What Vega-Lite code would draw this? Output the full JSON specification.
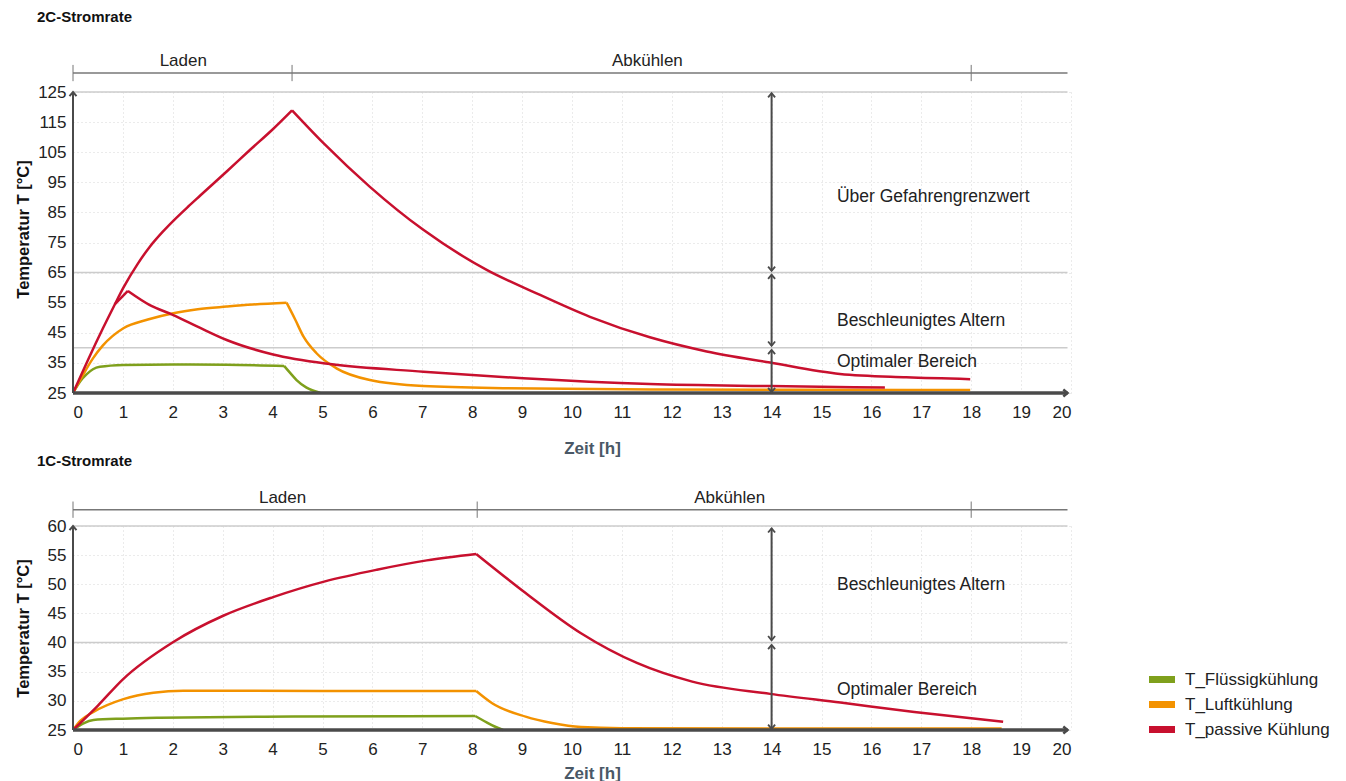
{
  "$schema": "https://vega.github.io/schema/vega-lite/v6.json",
  "padding": {"left": 15, "top": 10, "right": 5, "bottom": 5},
  "spacing": -3,
  "config": {
    "view": {"stroke": null},
    "font": "Liberation Sans",
    "axis": {"labelFont": "Liberation Sans", "labelFontSize": 17, "labelColor": "#222222", "ticks": false, "domain": false, "gridColor": "#d6d6d6", "gridDash": [1, 3], "gridWidth": 1, "titleFont": "Liberation Sans", "titleFontWeight": "bold"},
    "legend": {"labelFont": "Liberation Sans"}
  },
  "datasets": {
    "t2c": [
      {"t": 0, "T": 25, "series": "T_Flüssigkühlung", "seg": "g1"},
      {"t": 0.15, "T": 29, "series": "T_Flüssigkühlung", "seg": "g1"},
      {"t": 0.27, "T": 31.2, "series": "T_Flüssigkühlung", "seg": "g1"},
      {"t": 0.4, "T": 32.9, "series": "T_Flüssigkühlung", "seg": "g1"},
      {"t": 0.54, "T": 33.7, "series": "T_Flüssigkühlung", "seg": "g1"},
      {"t": 1.01, "T": 34.3, "series": "T_Flüssigkühlung", "seg": "g1"},
      {"t": 2.01, "T": 34.5, "series": "T_Flüssigkühlung", "seg": "g1"},
      {"t": 3.08, "T": 34.4, "series": "T_Flüssigkühlung", "seg": "g1"},
      {"t": 4.23, "T": 34.0, "series": "T_Flüssigkühlung", "seg": "g1"},
      {"t": 4.23, "T": 34.0, "series": "T_Flüssigkühlung", "seg": "g2"},
      {"t": 4.36, "T": 31.5, "series": "T_Flüssigkühlung", "seg": "g2"},
      {"t": 4.48, "T": 29.3, "series": "T_Flüssigkühlung", "seg": "g2"},
      {"t": 4.68, "T": 26.8, "series": "T_Flüssigkühlung", "seg": "g2"},
      {"t": 4.95, "T": 25.1, "series": "T_Flüssigkühlung", "seg": "g2"},
      {"t": 0, "T": 25, "series": "T_Luftkühlung", "seg": "o1"},
      {"t": 0.2, "T": 31, "series": "T_Luftkühlung", "seg": "o1"},
      {"t": 0.4, "T": 36.5, "series": "T_Luftkühlung", "seg": "o1"},
      {"t": 0.6, "T": 40.8, "series": "T_Luftkühlung", "seg": "o1"},
      {"t": 1.01, "T": 46.5, "series": "T_Luftkühlung", "seg": "o1"},
      {"t": 1.5, "T": 49.4, "series": "T_Luftkühlung", "seg": "o1"},
      {"t": 2.01, "T": 51.5, "series": "T_Luftkühlung", "seg": "o1"},
      {"t": 2.5, "T": 52.8, "series": "T_Luftkühlung", "seg": "o1"},
      {"t": 3.08, "T": 53.7, "series": "T_Luftkühlung", "seg": "o1"},
      {"t": 3.6, "T": 54.4, "series": "T_Luftkühlung", "seg": "o1"},
      {"t": 4.28, "T": 55.0, "series": "T_Luftkühlung", "seg": "o1"},
      {"t": 4.28, "T": 55.0, "series": "T_Luftkühlung", "seg": "o2"},
      {"t": 4.45, "T": 49.5, "series": "T_Luftkühlung", "seg": "o2"},
      {"t": 4.62, "T": 43.7, "series": "T_Luftkühlung", "seg": "o2"},
      {"t": 4.88, "T": 38.2, "series": "T_Luftkühlung", "seg": "o2"},
      {"t": 5.28, "T": 33.2, "series": "T_Luftkühlung", "seg": "o2"},
      {"t": 5.95, "T": 29.3, "series": "T_Luftkühlung", "seg": "o2"},
      {"t": 7.02, "T": 27.3, "series": "T_Luftkühlung", "seg": "o2"},
      {"t": 8.62, "T": 26.6, "series": "T_Luftkühlung", "seg": "o2"},
      {"t": 11.56, "T": 26.2, "series": "T_Luftkühlung", "seg": "o2"},
      {"t": 14.5, "T": 26.05, "series": "T_Luftkühlung", "seg": "o2"},
      {"t": 17.98, "T": 26.0, "series": "T_Luftkühlung", "seg": "o2"},
      {"t": 0, "T": 25, "series": "T_passive Kühlung", "seg": "r1"},
      {"t": 0.3, "T": 36, "series": "T_passive Kühlung", "seg": "r1"},
      {"t": 0.6, "T": 46.5, "series": "T_passive Kühlung", "seg": "r1"},
      {"t": 0.84, "T": 54.5, "series": "T_passive Kühlung", "seg": "r1"},
      {"t": 1.01, "T": 60, "series": "T_passive Kühlung", "seg": "r1"},
      {"t": 1.3, "T": 68, "series": "T_passive Kühlung", "seg": "r1"},
      {"t": 1.54, "T": 73.6, "series": "T_passive Kühlung", "seg": "r1"},
      {"t": 1.8, "T": 78.6, "series": "T_passive Kühlung", "seg": "r1"},
      {"t": 2.01, "T": 82.2, "series": "T_passive Kühlung", "seg": "r1"},
      {"t": 2.3, "T": 86.8, "series": "T_passive Kühlung", "seg": "r1"},
      {"t": 2.55, "T": 90.6, "series": "T_passive Kühlung", "seg": "r1"},
      {"t": 3.08, "T": 98.6, "series": "T_passive Kühlung", "seg": "r1"},
      {"t": 3.55, "T": 105.8, "series": "T_passive Kühlung", "seg": "r1"},
      {"t": 4.01, "T": 112.7, "series": "T_passive Kühlung", "seg": "r1"},
      {"t": 4.39, "T": 118.9, "series": "T_passive Kühlung", "seg": "r1"},
      {"t": 4.39, "T": 118.9, "series": "T_passive Kühlung", "seg": "r2"},
      {"t": 5.02, "T": 108.0, "series": "T_passive Kühlung", "seg": "r2"},
      {"t": 5.95, "T": 93.5, "series": "T_passive Kühlung", "seg": "r2"},
      {"t": 7.02, "T": 79.2, "series": "T_passive Kühlung", "seg": "r2"},
      {"t": 8.29, "T": 65.9, "series": "T_passive Kühlung", "seg": "r2"},
      {"t": 9.29, "T": 58.1, "series": "T_passive Kühlung", "seg": "r2"},
      {"t": 10.36, "T": 50.3, "series": "T_passive Kühlung", "seg": "r2"},
      {"t": 11.56, "T": 43.5, "series": "T_passive Kühlung", "seg": "r2"},
      {"t": 12.7, "T": 38.8, "series": "T_passive Kühlung", "seg": "r2"},
      {"t": 13.97, "T": 35.1, "series": "T_passive Kühlung", "seg": "r2"},
      {"t": 15.37, "T": 31.3, "series": "T_passive Kühlung", "seg": "r2"},
      {"t": 16.7, "T": 30.2, "series": "T_passive Kühlung", "seg": "r2"},
      {"t": 17.98, "T": 29.6, "series": "T_passive Kühlung", "seg": "r2"},
      {"t": 0.84, "T": 54.5, "series": "T_passive Kühlung", "seg": "r3"},
      {"t": 1.10, "T": 58.9, "series": "T_passive Kühlung", "seg": "r3"},
      {"t": 1.10, "T": 58.9, "series": "T_passive Kühlung", "seg": "r4"},
      {"t": 1.54, "T": 54.2, "series": "T_passive Kühlung", "seg": "r4"},
      {"t": 2.01, "T": 50.9, "series": "T_passive Kühlung", "seg": "r4"},
      {"t": 2.55, "T": 46.6, "series": "T_passive Kühlung", "seg": "r4"},
      {"t": 3.08, "T": 42.6, "series": "T_passive Kühlung", "seg": "r4"},
      {"t": 4.01, "T": 37.8, "series": "T_passive Kühlung", "seg": "r4"},
      {"t": 5.15, "T": 34.6, "series": "T_passive Kühlung", "seg": "r4"},
      {"t": 7.02, "T": 32.1, "series": "T_passive Kühlung", "seg": "r4"},
      {"t": 9.02, "T": 29.9, "series": "T_passive Kühlung", "seg": "r4"},
      {"t": 11.56, "T": 28.0, "series": "T_passive Kühlung", "seg": "r4"},
      {"t": 13.97, "T": 27.3, "series": "T_passive Kühlung", "seg": "r4"},
      {"t": 16.27, "T": 26.8, "series": "T_passive Kühlung", "seg": "r4"}
    ],
    "t1c": [
      {"t": 0, "T": 25, "series": "T_Flüssigkühlung", "seg": "g1"},
      {"t": 0.21, "T": 26.15, "series": "T_Flüssigkühlung", "seg": "g1"},
      {"t": 0.41, "T": 26.7, "series": "T_Flüssigkühlung", "seg": "g1"},
      {"t": 1.0, "T": 26.95, "series": "T_Flüssigkühlung", "seg": "g1"},
      {"t": 1.74, "T": 27.1, "series": "T_Flüssigkühlung", "seg": "g1"},
      {"t": 4.41, "T": 27.3, "series": "T_Flüssigkühlung", "seg": "g1"},
      {"t": 8.06, "T": 27.4, "series": "T_Flüssigkühlung", "seg": "g1"},
      {"t": 8.06, "T": 27.4, "series": "T_Flüssigkühlung", "seg": "g2"},
      {"t": 8.29, "T": 26.3, "series": "T_Flüssigkühlung", "seg": "g2"},
      {"t": 8.45, "T": 25.6, "series": "T_Flüssigkühlung", "seg": "g2"},
      {"t": 8.62, "T": 25.0, "series": "T_Flüssigkühlung", "seg": "g2"},
      {"t": 0, "T": 25, "series": "T_Luftkühlung", "seg": "o1"},
      {"t": 0.15, "T": 26.6, "series": "T_Luftkühlung", "seg": "o1"},
      {"t": 0.41, "T": 28.1, "series": "T_Luftkühlung", "seg": "o1"},
      {"t": 1.01, "T": 30.3, "series": "T_Luftkühlung", "seg": "o1"},
      {"t": 1.61, "T": 31.4, "series": "T_Luftkühlung", "seg": "o1"},
      {"t": 2.21, "T": 31.75, "series": "T_Luftkühlung", "seg": "o1"},
      {"t": 5.0, "T": 31.7, "series": "T_Luftkühlung", "seg": "o1"},
      {"t": 8.08, "T": 31.7, "series": "T_Luftkühlung", "seg": "o1"},
      {"t": 8.08, "T": 31.7, "series": "T_Luftkühlung", "seg": "o2"},
      {"t": 8.4, "T": 29.6, "series": "T_Luftkühlung", "seg": "o2"},
      {"t": 9.07, "T": 27.3, "series": "T_Luftkühlung", "seg": "o2"},
      {"t": 9.6, "T": 26.2, "series": "T_Luftkühlung", "seg": "o2"},
      {"t": 10.18, "T": 25.5, "series": "T_Luftkühlung", "seg": "o2"},
      {"t": 11.0, "T": 25.3, "series": "T_Luftkühlung", "seg": "o2"},
      {"t": 14.0, "T": 25.25, "series": "T_Luftkühlung", "seg": "o2"},
      {"t": 18.61, "T": 25.25, "series": "T_Luftkühlung", "seg": "o2"},
      {"t": 0, "T": 25, "series": "T_passive Kühlung", "seg": "r1"},
      {"t": 0.5, "T": 29.2, "series": "T_passive Kühlung", "seg": "r1"},
      {"t": 1.0, "T": 33.7, "series": "T_passive Kühlung", "seg": "r1"},
      {"t": 2.01, "T": 40.1, "series": "T_passive Kühlung", "seg": "r1"},
      {"t": 3.01, "T": 44.6, "series": "T_passive Kühlung", "seg": "r1"},
      {"t": 4.01, "T": 47.8, "series": "T_passive Kühlung", "seg": "r1"},
      {"t": 5.05, "T": 50.5, "series": "T_passive Kühlung", "seg": "r1"},
      {"t": 6.09, "T": 52.5, "series": "T_passive Kühlung", "seg": "r1"},
      {"t": 7.09, "T": 54.1, "series": "T_passive Kühlung", "seg": "r1"},
      {"t": 8.08, "T": 55.2, "series": "T_passive Kühlung", "seg": "r1"},
      {"t": 8.08, "T": 55.2, "series": "T_passive Kühlung", "seg": "r2"},
      {"t": 9.07, "T": 48.5, "series": "T_passive Kühlung", "seg": "r2"},
      {"t": 10.18, "T": 41.6, "series": "T_passive Kühlung", "seg": "r2"},
      {"t": 11.3, "T": 36.5, "series": "T_passive Kühlung", "seg": "r2"},
      {"t": 12.41, "T": 33.3, "series": "T_passive Kühlung", "seg": "r2"},
      {"t": 13.97, "T": 31.2, "series": "T_passive Kühlung", "seg": "r2"},
      {"t": 15.38, "T": 29.7, "series": "T_passive Kühlung", "seg": "r2"},
      {"t": 16.86, "T": 28.1, "series": "T_passive Kühlung", "seg": "r2"},
      {"t": 18.64, "T": 26.4, "series": "T_passive Kühlung", "seg": "r2"}
    ]
  },
  "vconcat": [
    {
      "title": {"text": "2C-Stromrate", "anchor": "start", "frame": "group", "dx": -36, "offset": 27, "fontSize": 15, "fontWeight": "bold", "color": "#111111", "font": "Liberation Sans"},
      "width": 998,
      "height": 301,
      "encoding": {
        "x": {"field": "t", "type": "quantitative", "scale": {"domain": [0, 20], "nice": false, "zero": false}, "axis": {"values": [0,1,2,3,4,5,6,7,8,9,10,11,12,13,14,15,16,17,18,19,20], "title": "Zeit [h]", "titleColor": "#4a5866", "titleFontSize": 17, "labelPadding": 11, "titlePadding": 20, "titleX": 519}},
        "y": {"field": "T", "type": "quantitative", "scale": {"domain": [25, 125], "nice": false, "zero": false}, "axis": {"values": [25,35,45,55,65,75,85,95,105,115,125], "title": "Temperatur T [°C]", "titleFontSize": 16.5, "titleColor": "#111111", "titleY": 137, "labelPadding": 7, "minExtent": 30, "maxExtent": 30, "titlePadding": 12}}
      },
      "layer": [
        {"data": {"values": [{"t": 0, "t2": 19.93, "T": 125}, {"t": 0, "t2": 19.93, "T": 65}, {"t": 0, "t2": 19.93, "T": 40}]}, "mark": {"type": "rule", "color": "#cccccc", "strokeWidth": 1.5}, "encoding": {"x2": {"field": "t2"}}},
        {"data": {"name": "t2c"}, "mark": {"type": "line", "strokeWidth": 2.5, "interpolate": "monotone"}, "encoding": {"color": {"field": "series", "type": "nominal", "scale": {"domain": ["T_Flüssigkühlung", "T_Luftkühlung", "T_passive Kühlung"], "range": ["#7fa01c", "#f39200", "#c8102e"]}, "legend": {"orient": "none", "legendX": 1078, "legendY": 576.5, "title": null, "labelFontSize": 17, "labelColor": "#222222", "symbolType": "M-1.73,0H1.73", "symbolStrokeWidth": 7, "symbolSize": 225, "rowPadding": -7, "labelOffset": 12}}, "detail": {"field": "seg"}}},
        {"data": {"values": [{"t": 0, "t2": 19.93, "T": 25}]}, "mark": {"type": "rule", "color": "#4a4a4a", "strokeWidth": 3.5}, "encoding": {"x2": {"field": "t2"}}},
        {"data": {"values": [{"t": 0, "T": 25, "T2": 125}]}, "mark": {"type": "rule", "color": "#4a4a4a", "strokeWidth": 2}, "encoding": {"y2": {"field": "T2"}}},
        {"data": {"values": [{"t": 0, "T": 125}]}, "mark": {"type": "point", "shape": "M-1,1.2L0,0L1,1.2", "filled": false, "size": 49, "color": "#4a4a4a", "strokeWidth": 2, "opacity": 1}},
        {"data": {"values": [{"t": 19.93, "T": 25}]}, "mark": {"type": "point", "shape": "M-1.2,-1L0,0L-1.2,1", "filled": false, "size": 49, "color": "#4a4a4a", "strokeWidth": 2.5, "opacity": 1}},
        {"data": {"values": [{"t": 14, "T": 65.6, "T2": 124.6}, {"t": 14, "T": 40.7, "T2": 64.3}, {"t": 14, "T": 25.3, "T2": 39.3}]}, "mark": {"type": "rule", "color": "#4a4a4a", "strokeWidth": 2}, "encoding": {"y2": {"field": "T2"}}},
        {"data": {"values": [{"t": 14, "T": 124.6}, {"t": 14, "T": 64.3}, {"t": 14, "T": 39.3}]}, "mark": {"type": "point", "shape": "M-1,1.2L0,0L1,1.2", "filled": false, "size": 49, "color": "#4a4a4a", "strokeWidth": 1.8, "opacity": 1}},
        {"data": {"values": [{"t": 14, "T": 65.6}, {"t": 14, "T": 40.7}, {"t": 14, "T": 25.3}]}, "mark": {"type": "point", "shape": "M-1,-1.2L0,0L1,-1.2", "filled": false, "size": 49, "color": "#4a4a4a", "strokeWidth": 1.8, "opacity": 1}},
        {"data": {"values": [{"t": 0, "t2": 19.93, "T": 131.3}]}, "mark": {"type": "rule", "color": "#777777", "strokeWidth": 1.5}, "encoding": {"x2": {"field": "t2"}}},
        {"data": {"values": [{"t": 0, "T": 128.6, "T2": 134}, {"t": 4.39, "T": 128.6, "T2": 134}, {"t": 18, "T": 128.6, "T2": 134}]}, "mark": {"type": "rule", "color": "#777777", "strokeWidth": 1}, "encoding": {"y2": {"field": "T2"}}},
        {"data": {"values": [{"t": 2.21, "T": 131.3, "label": "Laden"}, {"t": 11.51, "T": 131.3, "label": "Abkühlen"}]}, "mark": {"type": "text", "fontSize": 17, "color": "#222222", "baseline": "middle", "align": "center", "dy": -12}, "encoding": {"text": {"field": "label"}}},
        {"data": {"values": [{"t": 15.31, "T": 90.1, "label": "Über Gefahrengrenzwert"}, {"t": 15.31, "T": 48.9, "label": "Beschleunigtes Altern"}, {"t": 15.31, "T": 35.3, "label": "Optimaler Bereich"}]}, "mark": {"type": "text", "fontSize": 17.5, "color": "#222222", "baseline": "middle", "align": "left"}, "encoding": {"text": {"field": "label"}}}
      ]
    },
    {
      "title": {"text": "1C-Stromrate", "anchor": "start", "frame": "group", "dx": -36, "offset": 20, "fontSize": 15, "fontWeight": "bold", "color": "#111111", "font": "Liberation Sans"},
      "width": 998,
      "height": 204,
      "encoding": {
        "x": {"field": "t", "type": "quantitative", "scale": {"domain": [0, 20], "nice": false, "zero": false}, "axis": {"values": [0,1,2,3,4,5,6,7,8,9,10,11,12,13,14,15,16,17,18,19,20], "title": "Zeit [h]", "titleColor": "#4a5866", "titleFontSize": 17, "labelPadding": 11, "titlePadding": 8, "titleX": 519}},
        "y": {"field": "T", "type": "quantitative", "scale": {"domain": [25, 60], "nice": false, "zero": false}, "axis": {"values": [25,30,35,40,45,50,55,60], "title": "Temperatur T [°C]", "titleFontSize": 16.5, "titleColor": "#111111", "labelPadding": 7, "minExtent": 30, "maxExtent": 30, "titlePadding": 12}}
      },
      "layer": [
        {"data": {"values": [{"t": 0, "t2": 19.93, "T": 60}, {"t": 0, "t2": 19.93, "T": 40}]}, "mark": {"type": "rule", "color": "#cccccc", "strokeWidth": 1.5}, "encoding": {"x2": {"field": "t2"}}},
        {"data": {"name": "t1c"}, "mark": {"type": "line", "strokeWidth": 2.5, "interpolate": "monotone"}, "encoding": {"color": {"field": "series", "type": "nominal", "scale": {"domain": ["T_Flüssigkühlung", "T_Luftkühlung", "T_passive Kühlung"], "range": ["#7fa01c", "#f39200", "#c8102e"]}, "legend": {"orient": "none", "legendX": 1078, "legendY": 576.5, "title": null, "labelFontSize": 17, "labelColor": "#222222", "symbolType": "M-1.73,0H1.73", "symbolStrokeWidth": 7, "symbolSize": 225, "rowPadding": -7, "labelOffset": 12}}, "detail": {"field": "seg"}}},
        {"data": {"values": [{"t": 0, "t2": 19.93, "T": 25}]}, "mark": {"type": "rule", "color": "#4a4a4a", "strokeWidth": 3.5}, "encoding": {"x2": {"field": "t2"}}},
        {"data": {"values": [{"t": 0, "T": 25, "T2": 60}]}, "mark": {"type": "rule", "color": "#4a4a4a", "strokeWidth": 2}, "encoding": {"y2": {"field": "T2"}}},
        {"data": {"values": [{"t": 0, "T": 60}]}, "mark": {"type": "point", "shape": "M-1,1.2L0,0L1,1.2", "filled": false, "size": 49, "color": "#4a4a4a", "strokeWidth": 2, "opacity": 1}},
        {"data": {"values": [{"t": 19.93, "T": 25}]}, "mark": {"type": "point", "shape": "M-1.2,-1L0,0L-1.2,1", "filled": false, "size": 49, "color": "#4a4a4a", "strokeWidth": 2.5, "opacity": 1}},
        {"data": {"values": [{"t": 14, "T": 40.4, "T2": 59.6}, {"t": 14, "T": 25.2, "T2": 39.6}]}, "mark": {"type": "rule", "color": "#4a4a4a", "strokeWidth": 2}, "encoding": {"y2": {"field": "T2"}}},
        {"data": {"values": [{"t": 14, "T": 59.6}, {"t": 14, "T": 39.6}]}, "mark": {"type": "point", "shape": "M-1,1.2L0,0L1,1.2", "filled": false, "size": 49, "color": "#4a4a4a", "strokeWidth": 1.8, "opacity": 1}},
        {"data": {"values": [{"t": 14, "T": 40.4}, {"t": 14, "T": 25.2}]}, "mark": {"type": "point", "shape": "M-1,-1.2L0,0L1,-1.2", "filled": false, "size": 49, "color": "#4a4a4a", "strokeWidth": 1.8, "opacity": 1}},
        {"data": {"values": [{"t": 0, "t2": 19.93, "T": 62.8}]}, "mark": {"type": "rule", "color": "#777777", "strokeWidth": 1.5}, "encoding": {"x2": {"field": "t2"}}},
        {"data": {"values": [{"t": 0, "T": 61.4, "T2": 64.2}, {"t": 8.1, "T": 61.4, "T2": 64.2}, {"t": 18, "T": 61.4, "T2": 64.2}]}, "mark": {"type": "rule", "color": "#777777", "strokeWidth": 1}, "encoding": {"y2": {"field": "T2"}}},
        {"data": {"values": [{"t": 4.2, "T": 62.8, "label": "Laden"}, {"t": 13.16, "T": 62.8, "label": "Abkühlen"}]}, "mark": {"type": "text", "fontSize": 17, "color": "#222222", "baseline": "middle", "align": "center", "dy": -12}, "encoding": {"text": {"field": "label"}}},
        {"data": {"values": [{"t": 15.31, "T": 49.9, "label": "Beschleunigtes Altern"}, {"t": 15.31, "T": 31.9, "label": "Optimaler Bereich"}]}, "mark": {"type": "text", "fontSize": 17.5, "color": "#222222", "baseline": "middle", "align": "left"}, "encoding": {"text": {"field": "label"}}}
      ]
    }
  ]
}
